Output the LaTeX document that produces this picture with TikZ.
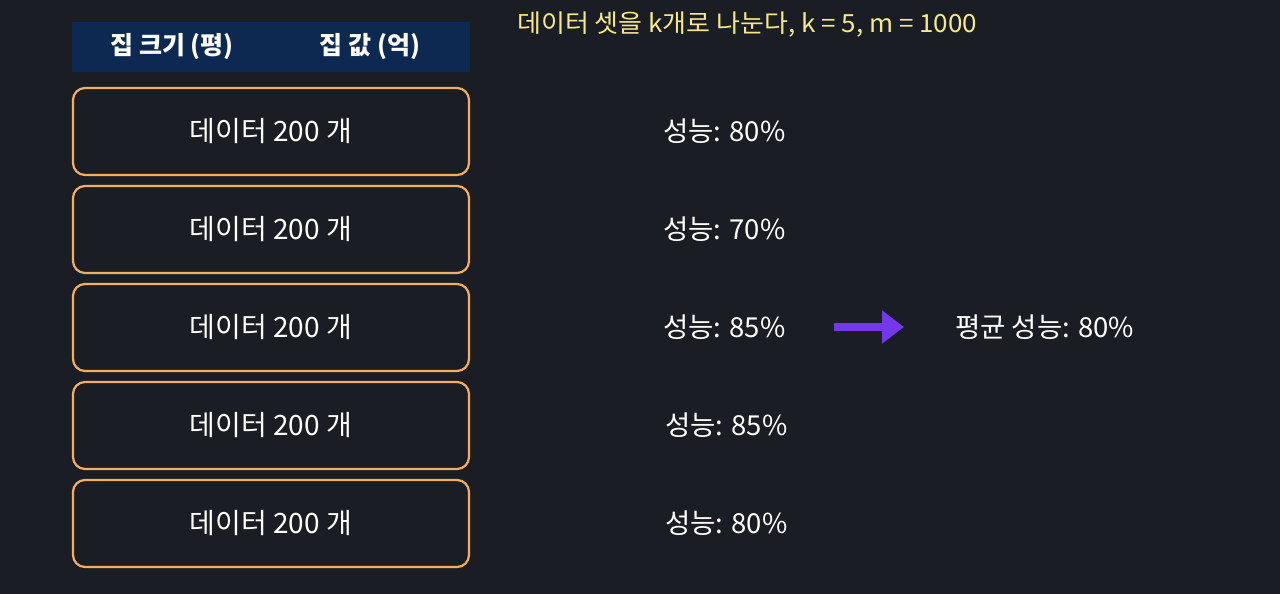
\documentclass[tikz,border=0pt]{standalone}
\usepackage{fontspec}
\setmainfont{Noto Sans CJK KR}
\usetikzlibrary{arrows.meta}
\definecolor{bg}{HTML}{1A1D23}
\definecolor{hdr}{HTML}{0D2851}
\definecolor{orng}{HTML}{F4AE5E}
\definecolor{purp}{HTML}{7437E9}
\definecolor{yel}{HTML}{F7E98A}
\tikzset{
  databox/.style={draw=orng, line width=2.2pt, rounded corners=12pt, fill=bg, minimum width=396pt, minimum height=87pt, inner sep=0pt, text=white, font=\fontsize{28}{32}\selectfont},
  perf/.style={anchor=west, text=white, inner sep=0pt, font=\fontsize{27.5}{32}\selectfont},
  hdrtext/.style={text=white, inner sep=0pt, font=\fontsize{25}{29}\selectfont\bfseries},
}
\begin{document}
\begin{tikzpicture}[x=1pt,y=-1pt]
\useasboundingbox (0,0) rectangle (1280,594);
\fill[bg] (0,0) rectangle (1280,594);
\node[fill=hdr, minimum width=398pt, minimum height=50pt, inner sep=0pt] (hdr) at (271,47) {};
\node[hdrtext] (h1) at (172,47) {집 크기 (평)};
\node[hdrtext] (h2) at (370,47) {집 값 (억)};
\node[text=yel, anchor=west, inner sep=0pt, font=\fontsize{25}{29}\selectfont, xscale=1.04] (note) at (517,25) {데이터 셋을 k개로 나눈다, k = 5, m = 1000};
\node[databox] (d1) at (271,131.5) {데이터 200 개};
\node[databox] (d2) at (271,229.5) {데이터 200 개};
\node[databox] (d3) at (271,327.5) {데이터 200 개};
\node[databox] (d4) at (271,425.5) {데이터 200 개};
\node[databox] (d5) at (271,523.5) {데이터 200 개};
\node[perf] (p1) at (663,131) {성능: 80\%};
\node[perf] (p2) at (663,229) {성능: 70\%};
\node[perf] (p3) at (663,327) {성능: 85\%};
\node[perf] (p4) at (665,425) {성능: 85\%};
\node[perf] (p5) at (665,523) {성능: 80\%};
\node[perf] (avg) at (955,327) {평균 성능: 80\%};
\coordinate (a1) at (834,327);
\coordinate (a2) at (904,327);
\draw[purp, line width=8pt, -{Triangle[length=22pt,width=32pt]}] (a1) -- (a2);
\end{tikzpicture}
\end{document}
